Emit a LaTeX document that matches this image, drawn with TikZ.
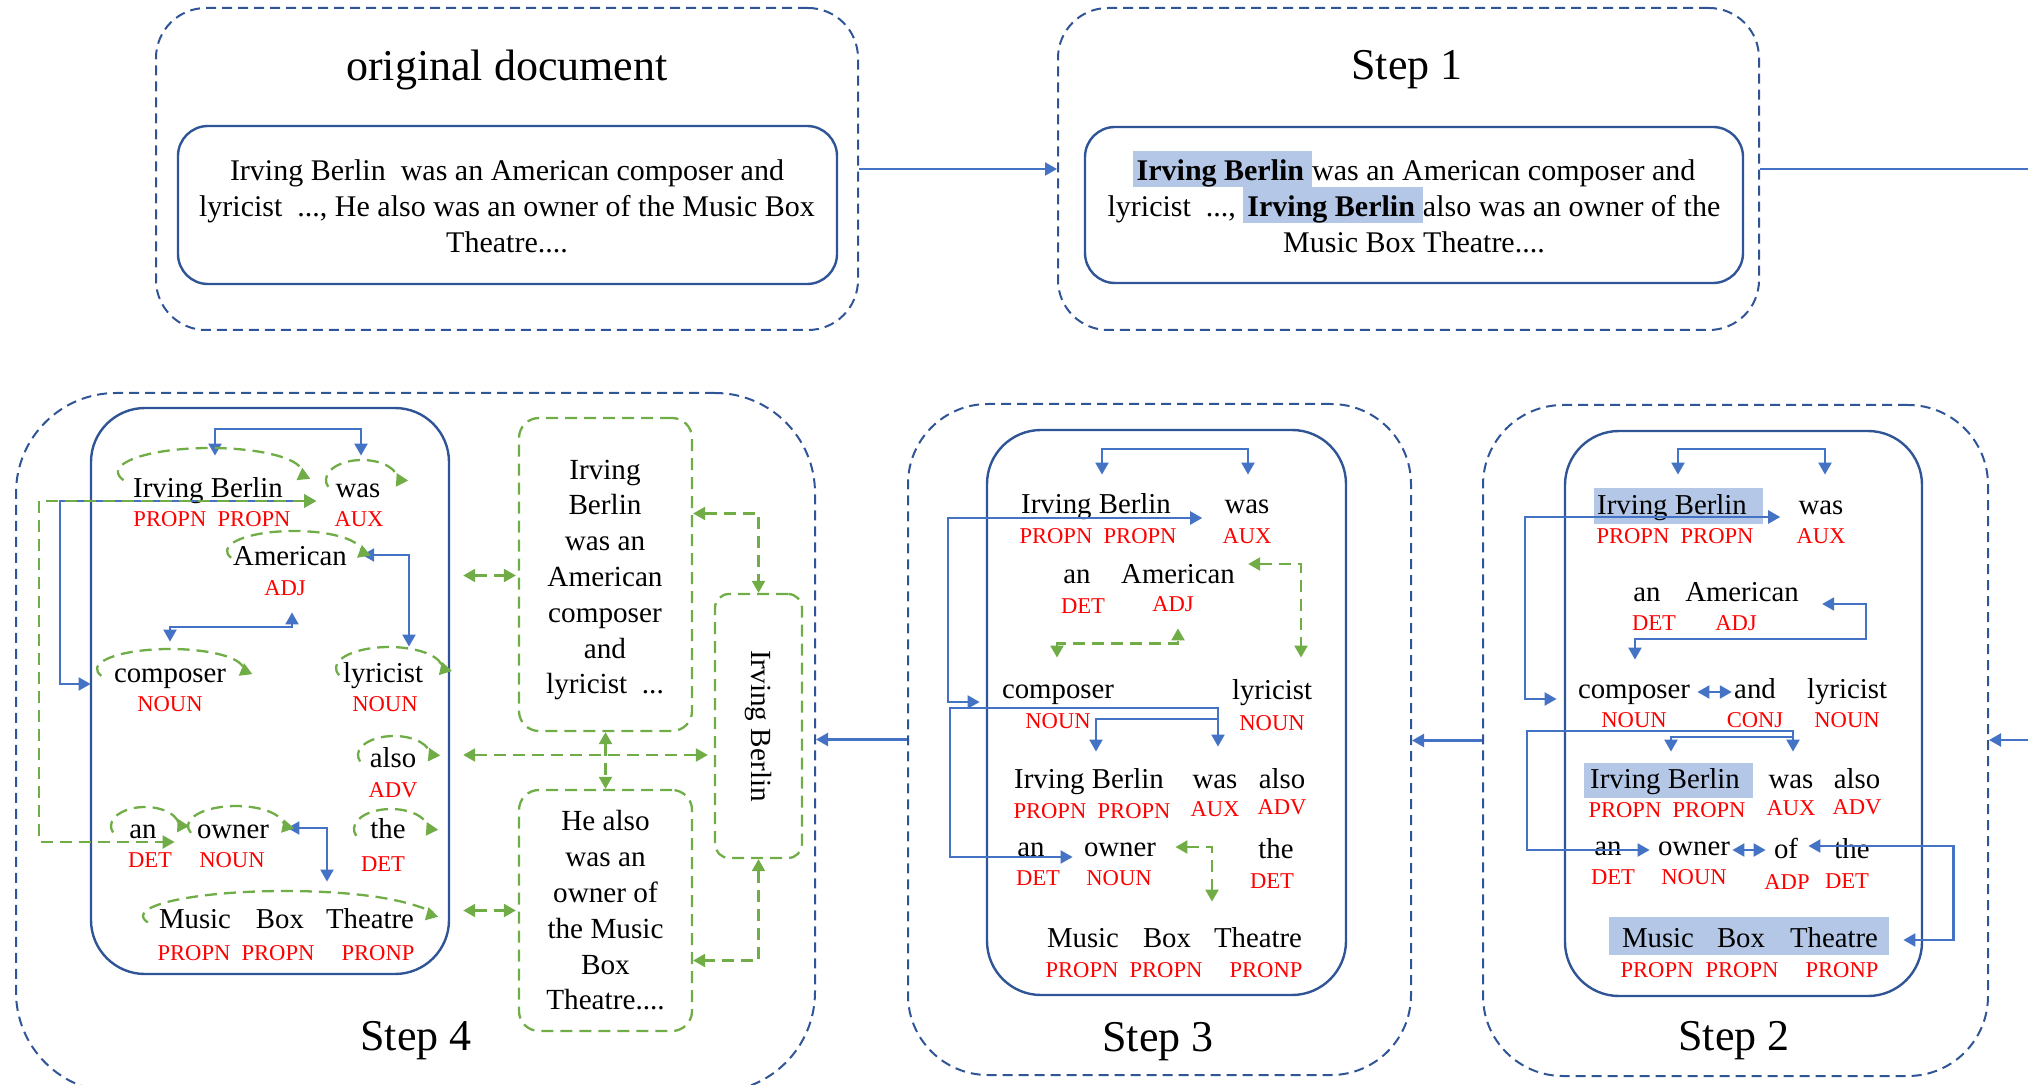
\documentclass[tikz,border=0pt]{standalone}
\usepackage{fontspec}
\setmainfont{Liberation Serif}
\usetikzlibrary{arrows.meta,calc}

\definecolor{frameblue}{RGB}{47,85,151}
\definecolor{arrowblue}{RGB}{68,114,196}
\definecolor{loopgreen}{RGB}{112,173,71}
\definecolor{hlblue}{RGB}{180,199,231}

% bold name on a light blue band
\newcommand{\hlname}[1]{{\setlength{\fboxsep}{0pt}\colorbox{hlblue}{\hspace{2pt}\rule[-3.5pt]{0pt}{18pt}\textbf{#1}\hspace{4pt}}}}

\begin{document}
\begin{tikzpicture}[x=0.5pt,y=-0.5pt,>={Triangle[length=6pt,width=6.5pt]},
  stepframe/.style={draw=frameblue,line width=1pt,dash pattern=on 5pt off 3pt,inner sep=0pt},
  textbox/.style={draw=frameblue,line width=1.2pt,inner sep=0pt},
  word/.style={font=\fontsize{14.4}{17}\selectfont,text height=10pt,text depth=3pt,inner sep=0pt,anchor=base},
  postag/.style={font=\fontsize{11.3}{13}\selectfont,text=red,text height=8pt,text depth=0pt,inner sep=0pt,anchor=base},
  blink/.style={draw=arrowblue,line width=1.1pt},
  gdash/.style={draw=loopgreen,line width=1.15pt,dash pattern=on 6pt off 3.5pt},
  gbox/.style={gdash,rounded corners=10pt,inner sep=0pt},
  gtext/.style={font=\fontsize{14.6}{17.9}\selectfont,align=center,inner sep=0pt},
  doctext/.style={font=\fontsize{15}{18}\selectfont,align=center,inner sep=0pt},
  steptitle/.style={font=\fontsize{22}{26}\selectfont,inner sep=0pt}]

  \useasboundingbox (0,0) rectangle (2028,1085);
  \clip (0,0) rectangle (2028,1085);

  % frames
  \node [stepframe,rounded corners=25pt,minimum width=351pt,minimum height=161pt] (origframe) at (507,169) {};
  \node [stepframe,rounded corners=25pt,minimum width=350.5pt,minimum height=161pt] (s1frame) at (1408.5,169) {};
  \node [stepframe,rounded corners=40pt,minimum width=252.5pt,minimum height=335.5pt] (s2frame) at (1735.5,740.5) {};
  \node [stepframe,rounded corners=40pt,minimum width=251.5pt,minimum height=335.5pt] (s3frame) at (1159.5,739.5) {};
  \node [stepframe,rounded corners=50pt,minimum width=399.5pt,minimum height=349.5pt] (s4frame) at (415.5,742.5) {};

  \node [textbox,rounded corners=15pt,minimum width=329.5pt,minimum height=79pt] (origpanel) at (507.5,205) {};
  \node [textbox,rounded corners=15pt,minimum width=329pt,minimum height=78pt] (s1panel) at (1414,205) {};
  \node [textbox,rounded corners=27pt,minimum width=178.5pt,minimum height=282.5pt] (s2panel) at (1743.5,713.5) {};
  \node [textbox,rounded corners=27pt,minimum width=179.5pt,minimum height=282.5pt] (s3panel) at (1166.5,712.5) {};
  \node [textbox,rounded corners=27pt,minimum width=179pt,minimum height=283pt] (s4panel) at (270,691) {};

  \node [steptitle] (origtitle) at (507,70) {original document};
  \node [steptitle] (s1title) at (1407,70) {Step 1};
  \node [steptitle] (s2title) at (1734,1041) {Step 2};
  \node [steptitle] (s3title) at (1158,1042) {Step 3};
  \node [steptitle] (s4title) at (416,1041) {Step 4};

  \node [doctext] (origtext) at (507,206) {Irving Berlin\ \ was an American composer and\\lyricist\ \ ..., He also was an owner of the Music Box\\Theatre....};
  \node [doctext] (s1text) at (1414,202) {\hlname{Irving Berlin}was an American composer and\\lyricist\ \ ..., \hlname{Irving Berlin}also was an owner of the\\Music Box Theatre....};

  % links between the steps
  \coordinate (rtop) at (2028,171);
  \coordinate (rmid) at (2028,740);
  \draw [blink,->] (origframe.east) -- (s1frame.west);
  \draw [blink] (s1frame.east) -- (s1frame.east -| rtop);
  \draw [blink,->] (rmid) -- (rmid -| s2frame.east);
  \draw [blink,->] (s2frame.west) -- (s2frame.west -| s3frame.east);
  \draw [blink,->] (s3frame.west) -- (s3frame.west -| s4frame.east);

  % Step 2
  \fill [hlblue] (1594,488) rectangle (1763,524);
  \fill [hlblue] (1584,763) rectangle (1753,798);
  \fill [hlblue] (1609,917) rectangle (1889,955);

  \node [word] (s2ib) at (1672,514) {Irving Berlin};
  \node [word] (s2was) at (1821,514) {was};
  \node [postag] (s2ibt) at (1675,543) {PROPN~ PROPN};
  \node [postag] (s2wast) at (1821,543) {AUX};
  \node [word] (s2an) at (1647,601) {an};
  \node [word] (s2am) at (1742,601) {American};
  \node [postag] (s2ant) at (1654,630) {DET};
  \node [postag] (s2adj) at (1736,630) {ADJ};
  \node [word] (s2comp) at (1634,698) {composer};
  \node [word] (s2and) at (1755,698) {and};
  \node [word] (s2lyr) at (1847,698) {lyricist};
  \node [postag] (s2compt) at (1634,727) {NOUN};
  \node [postag] (s2andt) at (1755,727) {CONJ};
  \node [postag] (s2lyrt) at (1847,727) {NOUN};
  \node [word] (s2ib2) at (1665,788) {Irving Berlin};
  \node [word] (s2was2) at (1791,788) {was};
  \node [word] (s2also) at (1857,788) {also};
  \node [postag] (s2ib2t) at (1667,817) {PROPN~ PROPN};
  \node [postag] (s2was2t) at (1791,815) {AUX};
  \node [postag] (s2alsot) at (1857,814) {ADV};
  \node [word] (s2an2) at (1608,855) {an};
  \node [word] (s2own) at (1694,855) {owner};
  \node [word] (s2of) at (1786,858) {of};
  \node [word] (s2the) at (1852,858) {the};
  \node [postag] (s2an2t) at (1613,884) {DET};
  \node [postag] (s2ownt) at (1694,884) {NOUN};
  \node [postag] (s2oft) at (1787,889) {ADP};
  \node [postag] (s2thet) at (1847,888) {DET};
  \node [word] (s2mus) at (1658,947) {Music};
  \node [word] (s2bx) at (1741,947) {Box};
  \node [word] (s2thea) at (1834,947) {Theatre};
  \node [postag] (s2must) at (1657,977) {PROPN};
  \node [postag] (s2bxt) at (1742,977) {PROPN};
  \node [postag] (s2theat) at (1842,977) {PRONP};

  \draw [blink,<->] ($(s2ib.north)+(6,-19)$) -- ++(0,-26) -| ($(s2was.north)+(4,-19)$);
  \draw [blink,<->] ($(s2was.west)+(-18,10)$) -- ++(-255,0) |- ($(s2comp.west)+(-21,8)$);
  \draw [blink,<->] ($(s2am.east)+(23,10)$) -- ++(44,0) -- ++(0,35) -| ($(s2comp.north)+(1,-18)$);
  \draw [blink,<->] ($(s2comp.east)+(7,1)$) -- ($(s2and.west)+(-2,1)$);
  \draw [blink,<->] ($(s2was2.north)+(2,-16)$) |- ($(s2comp.west)+(-51,40)$) |- ($(s2own.west)+(-8,2)$);
  \draw [blink,->] ($(s2was2.north)+(2,-31)$) -| ($(s2ib2.north)+(6,-16)$);
  \draw [blink,<->] ($(s2own.east)+(2,2)$) -- ($(s2of.west)+(-8,-1)$);
  \draw [blink,<->] ($(s2of.east)+(10,-5)$) -- ++(145,0) |- ($(s2thea.east)+(25,0)$);

  % Step 3
  \node [word] (s3ib) at (1096,513) {Irving Berlin};
  \node [word] (s3was) at (1247,513) {was};
  \node [postag] (s3ibt) at (1098,543) {PROPN~ PROPN};
  \node [postag] (s3wast) at (1247,543) {AUX};
  \node [word] (s3an) at (1077,583) {an};
  \node [word] (s3am) at (1178,583) {American};
  \node [postag] (s3ant) at (1083,613) {DET};
  \node [postag] (s3adj) at (1173,611) {ADJ};
  \node [word] (s3comp) at (1058,698) {composer};
  \node [word] (s3lyr) at (1272,699) {lyricist};
  \node [postag] (s3compt) at (1058,728) {NOUN};
  \node [postag] (s3lyrt) at (1272,730) {NOUN};
  \node [word] (s3ib2) at (1089,788) {Irving Berlin};
  \node [word] (s3was2) at (1215,788) {was};
  \node [word] (s3also) at (1282,788) {also};
  \node [postag] (s3ib2t) at (1092,818) {PROPN~ PROPN};
  \node [postag] (s3was2t) at (1215,816) {AUX};
  \node [postag] (s3alsot) at (1282,814) {ADV};
  \node [word] (s3an2) at (1031,856) {an};
  \node [word] (s3own) at (1120,856) {owner};
  \node [word] (s3the) at (1276,858) {the};
  \node [postag] (s3an2t) at (1038,885) {DET};
  \node [postag] (s3ownt) at (1119,885) {NOUN};
  \node [postag] (s3thet) at (1272,888) {DET};
  \node [word] (s3mus) at (1083,947) {Music};
  \node [word] (s3bx) at (1167,947) {Box};
  \node [word] (s3thea) at (1258,947) {Theatre};
  \node [postag] (s3must) at (1082,977) {PROPN};
  \node [postag] (s3bxt) at (1166,977) {PROPN};
  \node [postag] (s3theat) at (1266,977) {PRONP};

  \draw [blink,<->] ($(s3ib.north)+(6,-18)$) -- ++(0,-26) -| ($(s3was.north)+(1,-18)$);
  \draw [blink,<->] ($(s3was.west)+(-22,12)$) -- ++(-254,0) |- ($(s3comp.west)+(-22,11)$);
  \draw [blink,<->] ($(s3was2.north)+(3,-21)$) |- ($(s3comp.west)+(-52,17)$) |- ($(s3own.west)+(-11,8)$);
  \draw [blink,->] ($(s3was2.north)+(3,-49)$) -| ($(s3ib2.north)+(7,-16)$);
  \draw [gdash,<->] ($(s3am.east)+(13,-12)$) -| ($(s3lyr.north)+(29,-21)$);
  \draw [gdash,<->] ($(s3comp.north)+(-1,-20)$) -- ++(0,-14) -| ($(s3adj.south)+(5,17)$);
  \draw [gdash,<->] ($(s3own.east)+(19,-2)$) -| ($(s3thea.north)+(-46,-25)$);

  % Step 4
  \node [word] (s4ib) at (208,497) {Irving Berlin};
  \node [word] (s4was) at (358,497) {was};
  \node [postag] (s4ibt) at (212,526) {PROPN~ PROPN};
  \node [postag] (s4wast) at (359,526) {AUX};
  \node [word] (s4am) at (290,565) {American};
  \node [postag] (s4adj) at (285,595) {ADJ};
  \node [word] (s4comp) at (170,682) {composer};
  \node [postag] (s4compt) at (170,711) {NOUN};
  \node [word] (s4lyr) at (383,682) {lyricist};
  \node [postag] (s4lyrt) at (385,711) {NOUN};
  \node [word] (s4also) at (393,767) {also};
  \node [postag] (s4alsot) at (393,797) {ADV};
  \node [word] (s4an) at (143,838) {an};
  \node [postag] (s4ant) at (150,867) {DET};
  \node [word] (s4own) at (233,838) {owner};
  \node [postag] (s4ownt) at (232,867) {NOUN};
  \node [word] (s4the) at (388,838) {the};
  \node [postag] (s4thet) at (383,871) {DET};
  \node [word] (s4mus) at (195,928) {Music};
  \node [word] (s4bx) at (280,928) {Box};
  \node [word] (s4thea) at (370,928) {Theatre};
  \node [postag] (s4must) at (194,960) {PROPN};
  \node [postag] (s4bxt) at (278,960) {PROPN};
  \node [postag] (s4theat) at (378,960) {PRONP};

  \draw [blink,<->] ($(s4ib.north)+(7,-21)$) -- ++(0,-27) -| ($(s4was.north)+(3,-21)$);
  \draw [blink,<->] ($(s4am.east)+(15,-3)$) -| ($(s4lyr.north)+(26,-15)$);
  \draw [blink,<->] ($(s4comp.north)+(0,-20)$) -- ++(0,-15) -| ($(s4adj.south)+(7,17)$);
  \draw [blink,<->] ($(s4was.west)+(-19,11)$) -- ++(-256,0) |- ($(s4comp.west)+(-23,9)$);
  \draw [blink,<->] ($(s4own.east)+(18,-3)$) -| ($(s4thea.north)+(-43,-26)$);
  \draw [gdash,<->] ($(s4was.west)+(-19,11)$) -- ++(-277,0) |- ($(s4own.west)+(-22,11)$);

  % self loops
  \draw [gdash,->] ($(s4ib.center)+(2,-18)$) ++(200:46pt and 12pt) arc [start angle=200,end angle=-20,x radius=46pt,y radius=12pt];
  \draw [gdash,->] ($(s4was.center)+(4,-10)$) ++(200:18pt and 10pt) arc [start angle=200,end angle=-20,x radius=18pt,y radius=10pt];
  \draw [gdash,->] ($(s4am.center)+(4,-7)$) ++(200:33.5pt and 10pt) arc [start angle=200,end angle=-20,x radius=33.5pt,y radius=10pt];
  \draw [gdash,->] ($(s4comp.center)+(0,-6)$) ++(200:36.5pt and 10pt) arc [start angle=200,end angle=-20,x radius=36.5pt,y radius=10pt];
  \draw [gdash,->] ($(s4lyr.center)+(6,-7)$) ++(200:26.5pt and 10.5pt) arc [start angle=200,end angle=-20,x radius=26.5pt,y radius=10.5pt];
  \draw [gdash,->] ($(s4also.center)+(1,-5)$) ++(200:18pt and 9.5pt) arc [start angle=200,end angle=-20,x radius=18pt,y radius=9.5pt];
  \draw [gdash,->] ($(s4an.center)+(2,-5)$) ++(200:17pt and 9.5pt) arc [start angle=200,end angle=-20,x radius=17pt,y radius=9.5pt];
  \draw [gdash,->] ($(s4own.center)+(3,-5)$) ++(200:24pt and 10pt) arc [start angle=200,end angle=-20,x radius=24pt,y radius=10pt];
  \draw [gdash,->] ($(s4the.center)+(3,-2)$) ++(200:18.5pt and 10pt) arc [start angle=200,end angle=-20,x radius=18.5pt,y radius=10pt];
  \draw [gdash,->] ($(s4bx.center)+(5,-5)$) ++(195:71pt and 12.5pt) arc [start angle=195,end angle=-10,x radius=71pt,y radius=12.5pt];

  % sentence boxes and the shared mention
  \node [gbox,minimum width=86.5pt,minimum height=156.5pt] (s4ga) at (605.5,574.5) {};
  \node [gtext] (s4gat) at (605,580) {Irving\\Berlin\\was an\\American\\composer\\and\\lyricist~ ...};
  \node [gbox,gtext,minimum width=86.5pt,minimum height=120.5pt] (s4gb) at (605.5,910.5) {He also\\was an\\owner of\\the Music\\Box\\Theatre....};
  \node [gbox,rounded corners=7pt,minimum width=43.5pt,minimum height=132pt] (s4gc) at (758.5,726) {};
  \node [gtext,rotate=-90] (s4gct) at (s4gc.center) {Irving Berlin};

  \coordinate (g4a) at (s4ga.west -| s4panel.east);
  \coordinate (g4b) at (s4gb.west -| s4panel.east);
  \coordinate (g4mid) at ($(s4panel.east)+(13,64)$);
  \draw [gdash,<->] ($(g4a)+(13,1)$) -- ($(s4ga.west)+(-2,1)$);
  \draw [gdash,<->] ($(s4ga.east)+(0,-61)$) -| (s4gc.north);
  \draw [gdash,<->] (g4mid) -- ($(g4mid -| s4gc.west)+(-6,0)$);
  \draw [gdash,<->] (s4ga.south) -- (s4gb.north);
  \draw [gdash,<->] ($(g4b)+(13,0)$) -- ($(s4gb.west)+(-2,0)$);
  \draw [gdash,<->] (s4gc.south) |- ($(s4gb.east)+(0,50)$);

\end{tikzpicture}
\end{document}
